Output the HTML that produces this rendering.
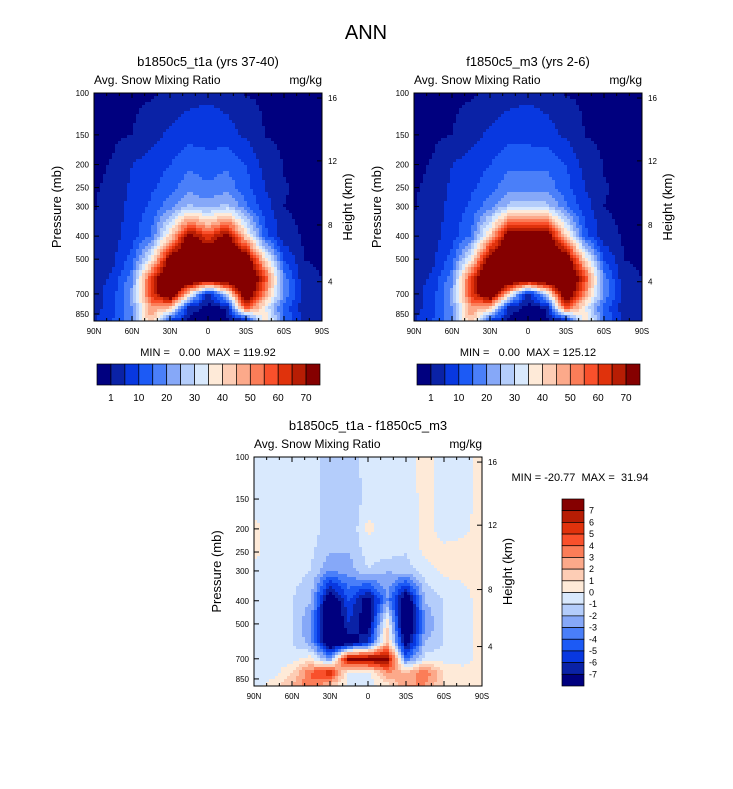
<!DOCTYPE html>
<html><head><meta charset="utf-8">
<style>
body{margin:0;background:#fff;}
svg{font-family:"Liberation Sans",sans-serif;}
text{white-space:pre;}
</style></head>
<body>
<svg id="fig" width="733" height="784" viewBox="0 0 733 784" xmlns="http://www.w3.org/2000/svg">
<rect width="733" height="784" fill="#fff"/>
<text x="366" y="39" font-size="20" text-anchor="middle">ANN</text>
</svg>
<script>
const lats=[90,75,60,45,30,15,0,-15,-30,-45,-60,-75,-90];
const levels=[100,150,200,250,300,400,500,600,700,800,900];
const dataA=[
[0.2,0.2,0.3,0.6,1.5,3,4,3,0.8,0.5,0.3,0.2,0.2],
[0.2,0.4,1,3,6,8,8,7,4,0.9,0.5,0.3,0.2],
[0.5,1.2,5,7,10,14,12,14,10,3,0.8,0.3,0.2],
[0.8,1.5,6,9,13,18,16,18,12,5,1.2,0.5,0.3],
[0.9,2,7,11,18,26,22,27,16,7,1,0.5,0.3],
[1,3,8,15,40,75,60,75,40,12,2,0.8,0.4],
[1.5,4,12,35,75,90,90,90,80,40,10,1,0.5],
[2,6,18,60,90,90,85,90,90,60,18,2,1],
[3,8,22,60,85,40,0.5,30,85,50,20,3,1],
[3,8,20,50,45,2,0.3,1,60,35,12,3,1],
[4,10,20,45,10,0.5,0.3,0.5,5,40,15,4,2]];
const dataB=[
[0.2,0.2,0.3,0.6,1.5,3,4,3,0.8,0.5,0.3,0.2,0.2],
[0.2,0.4,1,3,6,8,8,7,4,0.9,0.5,0.3,0.2],
[0.5,1.2,5,7,10,14,14,14,10,3,0.8,0.3,0.2],
[0.8,1.5,6,9,13,18,18,18,12,5,1.2,0.5,0.3],
[0.9,2,7,11,18,27,28,27,16,7,1,0.5,0.3],
[1,3,8,15,42,78,80,78,42,12,2,0.8,0.4],
[1.5,4,12,36,78,92,92,92,80,40,10,1,0.5],
[2,6,18,60,90,92,90,92,90,60,18,2,1],
[3,8,22,60,85,40,0.5,30,85,50,20,3,1],
[3,8,20,50,45,2,0.3,1,60,35,12,3,1],
[4,10,20,45,10,0.5,0.3,0.5,5,40,15,4,2]];
const dataD=[
[-0.5,-0.5,-0.5,-0.5,-1.5,-1.5,-0.5,-0.5,-0.5,0.5,-0.5,-0.5,0.5],
[-0.5,-0.5,-0.5,-0.5,-1.5,-2,-0.5,-0.5,-0.8,0.5,-0.5,-0.5,0.5],
[0.3,-0.5,-0.5,-0.5,-1.5,-2,0.3,-0.5,-0.8,0.5,-0.5,-0.3,0.5],
[0.3,-0.5,-0.5,-0.8,-2,-2,-0.5,-0.5,-1,0.3,0.3,0.5,0.5],
[-0.5,-0.5,-0.5,-1,-3,-2.5,-1,-2,-1.5,-0.5,0.3,0.3,0.5],
[-0.5,-0.5,-1,-2,-9,-5,-8,-3,-9,-2,-1,-0.5,0.5],
[-0.5,-0.8,-1,-3,-10,-6,-8,1,-10,-3,-1,-0.5,0.5],
[-0.5,-0.5,-1,-2.5,-9,-8,-6,2,-8,-2,-1,-0.5,0.5],
[-0.5,-0.5,-0.5,0.5,-3,8,8,8,-4,-0.5,-0.5,-0.5,0.5],
[-0.5,-0.5,1,4,6,-0.5,-0.5,3,2,4,1,0.5,0.5],
[-0.5,0.5,2,4,2,-0.5,-0.5,0.5,3,3,1,0.5,0.5]];
const levA=[1,5,10,15,20,25,30,35,40,45,50,55,60,65,70];
const labA=[1,10,20,30,40,50,60,70];
const levD=[-7,-6,-5,-4,-3,-2,-1,0,1,2,3,4,5,6,7];
const labD=[7,6,5,4,3,2,1,0,-1,-2,-3,-4,-5,-6,-7];
const cols=["#00007f","#0a22a6","#0838e0","#1c5af5","#4a7ff9","#86a8f8","#b4cdfb","#d9e9fd","#feead8","#fdcdb5","#fca98a","#fb7d58","#f9502b","#e0320c","#b71d04","#850000"];
const lonLabels=["90N","60N","30N","0","30S","60S","90S"];
const pTicks=[100,150,200,250,300,400,500,700,850];
const kmTicks=[4,8,12,16];
const kmP=[622,359,193,105];
const NS="http://www.w3.org/2000/svg";
const svg=document.getElementById('fig');
function mk(tag,attrs,parent){const e=document.createElementNS(NS,tag);for(const k in attrs)e.setAttribute(k,attrs[k]);(parent||svg).appendChild(e);return e;}
function txt(s,x,y,size,anchor,parent,name){const t=mk('text',{x:x,y:y,'font-size':size,'text-anchor':anchor||'start'},parent);t.textContent=s;


return t;}
function colorOf(v,lev){let i=0;while(i<lev.length&&v>=lev[i])i++;return cols[i];}
const PB=910;
function sample(data,lat,p){
  let fx=(90-lat)/15;fx=Math.max(0,Math.min(12,fx));
  const lp=Math.log(p);let j=0;var fy;
  if(p<=levels[0]){j=0;fy=0;}else if(p>=levels[10]){j=9;fy=1;}
  else{while(levels[j+1]<p)j++;fy=(lp-Math.log(levels[j]))/(Math.log(levels[j+1])-Math.log(levels[j]));}
  const i=Math.min(11,Math.floor(fx)),tx=fx-i;
  const a=data[j][i],b=data[j][i+1],c=data[j+1][i],d=data[j+1][i+1];
  return (a*(1-tx)+b*tx)*(1-fy)+(c*(1-tx)+d*tx)*fy;
}
function panel(x0,y0,w,h,data,lev,title,name){
  const g=mk('g',{});
  
  
  const xS=lat=>x0+(90-lat)/180*w;
  const yS=p=>y0+Math.log10(p/100)/Math.log10(PB/100)*h;
  const step=3;
  for(let px=0;px<w;px+=step){for(let py=0;py<h;py+=step){
    const lat=90-(px+step/2)/w*180;
    const p=100*Math.pow(PB/100,(py+step/2)/h);
    const v=sample(data,lat,p);
    const r=mk('rect',{x:x0+px,y:y0+py,width:Math.min(step,w-px)+0.4,height:Math.min(step,h-py)+0.4,fill:colorOf(v,lev),'shape-rendering':'crispEdges'},g);
    
    
  }}
  const fr=mk('rect',{x:x0,y:y0,width:w,height:h,fill:'none',stroke:'#000','stroke-width':1},g);
  
  
  for(let lat=90;lat>=-90;lat-=10){const x=xS(lat);const L=(lat%30===0)?5:3;
    mk('line',{x1:x,x2:x,y1:y0,y2:y0+L,stroke:'#000'},g);mk('line',{x1:x,x2:x,y1:y0+h,y2:y0+h-L,stroke:'#000'},g);}
  lonLabels.forEach((s,k)=>txt(s,xS(90-30*k),y0+h+13,8,'middle',g,'x-tick-label'));
  pTicks.forEach(p=>{const y=yS(p);mk('line',{x1:x0,x2:x0+5,y1:y,y2:y,stroke:'#000'},g);
    txt(String(p),x0-5,y+3,8,'end',g,'y-tick-label');});
  kmTicks.forEach((k,i)=>{const y=yS(kmP[i]);mk('line',{x1:x0+w,x2:x0+w-5,y1:y,y2:y,stroke:'#000'},g);
    txt(String(k),x0+w+6,y+3,8,'start',g,'y2-tick-label');});
  txt(title,x0+w/2,y0-27,13,'middle',g,'panel-title');
  txt('Avg. Snow Mixing Ratio',x0,y0-9,12,'start',g,'panel-subtitle');
  txt('mg/kg',x0+w,y0-9,12,'end',g,'units-label');
  const yl=txt('Pressure (mb)',0,0,13,'middle',g,'y-axis-title');yl.setAttribute('transform',`translate(${x0-33},${y0+h/2}) rotate(-90)`);
  const yr=txt('Height (km)',0,0,13,'middle',g,'y2-axis-title');yr.setAttribute('transform',`translate(${x0+w+30},${y0+h/2}) rotate(-90)`);
}
panel(94,93,228,228,dataA,levA,'b1850c5_t1a (yrs 37-40)','panel-b1850c5');
panel(414,93,228,228,dataB,levA,'f1850c5_m3 (yrs 2-6)','panel-f1850c5');
panel(254,457,228,229,dataD,levD,'b1850c5_t1a - f1850c5_m3','panel-difference');
txt('MIN =   0.00  MAX = 119.92',208,356,11,'middle',null,'minmax-left');
txt('MIN =   0.00  MAX = 125.12',528,356,11,'middle',null,'minmax-right');
txt('MIN = -20.77  MAX =  31.94',580,481,11,'middle',null,'minmax-diff');
function hbar(x0,y0,name){
  const g=mk('g',{});
  const bw=223/16;
  cols.forEach((c,i)=>{const r=mk('rect',{x:x0+i*bw,y:y0,width:bw,height:21,fill:c,stroke:'#000','stroke-width':0.7},g);
    });
  levA.forEach((v,i)=>{if(labA.indexOf(v)>=0)txt(String(v),x0+(i+1)*bw,y0+37,10,'middle',g,'colorbar-label');});
}
hbar(97,364,'colorbar-left');hbar(417,364,'colorbar-right');
(function(){
  const g=mk('g',{});
  const x0=562,y0=499,bh=187/16;
  cols.slice().reverse().forEach((c,i)=>{const r=mk('rect',{x:x0,y:y0+i*bh,width:22,height:bh,fill:c,stroke:'#000','stroke-width':0.7},g);
    });
  labD.forEach((v,i)=>txt(String(v),x0+27,y0+(i+1)*bh+3,9,'start',g,'colorbar-label'));
})();
</script>
</body></html>
